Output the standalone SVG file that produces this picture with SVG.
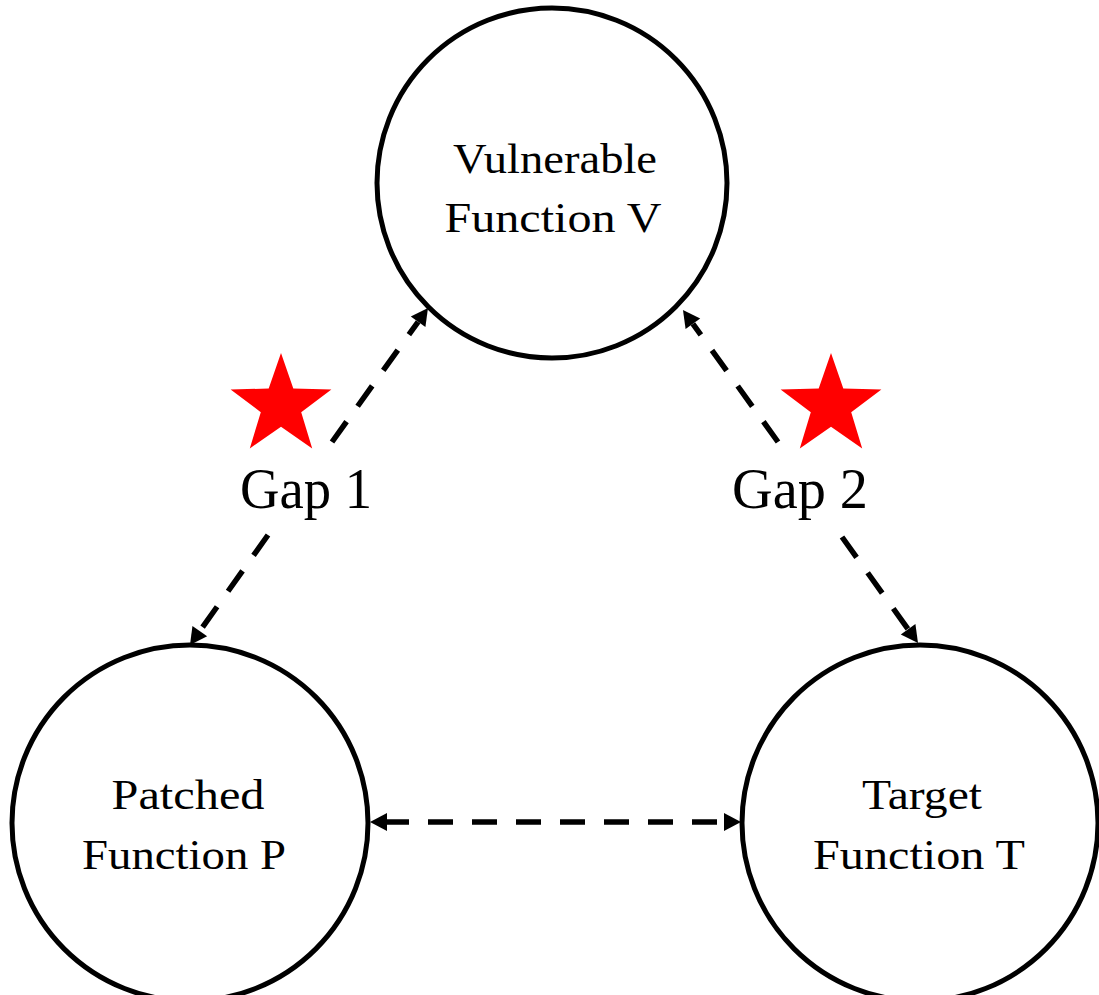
<svg xmlns="http://www.w3.org/2000/svg" width="1099" height="995" viewBox="0 0 1099 995">
<style>
.node{fill:#fff;stroke:#000;stroke-width:5}
.lbl{font-family:"Liberation Serif","Times New Roman",serif;font-size:42px;fill:#000;text-anchor:middle}
.gap{font-family:"Liberation Serif","Times New Roman",serif;font-size:56px;fill:#000;text-anchor:middle}
.edge{stroke:#000;stroke-width:5.5;stroke-dasharray:25 19;fill:none}
.star{fill:#ff0000}
</style>
<defs>
<marker id="ah" markerUnits="userSpaceOnUse" markerWidth="20" markerHeight="20" refX="0" refY="0" viewBox="0 -10 18 20" orient="auto-start-reverse">
<path d="M0,-9 L17,0 L0,9 z" fill="#000"/>
</marker>
</defs>
<rect width="1099" height="995" fill="#fff"/>
<g id="node-V">
<circle class="node" cx="552" cy="183" r="175"/>
<text class="lbl" x="555" y="173" textLength="204" lengthAdjust="spacingAndGlyphs">Vulnerable</text>
<text class="lbl" x="553" y="232" textLength="217" lengthAdjust="spacingAndGlyphs">Function V</text>
</g>
<g id="node-P">
<circle class="node" cx="190" cy="823" r="178"/>
<text class="lbl" x="188" y="809" textLength="153" lengthAdjust="spacingAndGlyphs">Patched</text>
<text class="lbl" x="184" y="869" textLength="204" lengthAdjust="spacingAndGlyphs">Function P</text>
</g>
<g id="node-T">
<circle class="node" cx="920" cy="823" r="178"/>
<text class="lbl" x="922" y="809" textLength="120" lengthAdjust="spacingAndGlyphs">Target</text>
<text class="lbl" x="919" y="869" textLength="212" lengthAdjust="spacingAndGlyphs">Function T</text>
</g>
<g id="connectors">
<line class="edge" x1="332" y1="442" x2="418.1" y2="321.8" marker-end="url(#ah)"/>
<line class="edge" x1="268" y1="535" x2="199.8" y2="631.1" marker-end="url(#ah)"/>
<line class="edge" x1="778" y1="442" x2="692.9" y2="323.8" marker-end="url(#ah)"/>
<line class="edge" x1="842" y1="537" x2="908.1" y2="629.2" marker-end="url(#ah)"/>
<line class="edge" x1="387" y1="822" x2="724" y2="822" stroke-dashoffset="3" marker-start="url(#ah)" marker-end="url(#ah)"/>
</g>
<g id="gap1">
<polygon class="star" points="281,353 293.3,388.6 331.4,389.4 301.2,412.2 312.2,448.4 281,426.8 249.8,448.4 260.8,412.2 230.6,389.4 268.7,388.6"/>
<text class="gap" x="306" y="508" textLength="132" lengthAdjust="spacingAndGlyphs">Gap 1</text>
</g>
<g id="gap2">
<polygon class="star" points="831,353 843.3,388.6 881.4,389.4 851.2,412.2 862.2,448.4 831,426.8 799.8,448.4 810.8,412.2 780.6,389.4 818.7,388.6"/>
<text class="gap" x="800" y="508" textLength="136" lengthAdjust="spacingAndGlyphs">Gap 2</text>
</g>
</svg>
